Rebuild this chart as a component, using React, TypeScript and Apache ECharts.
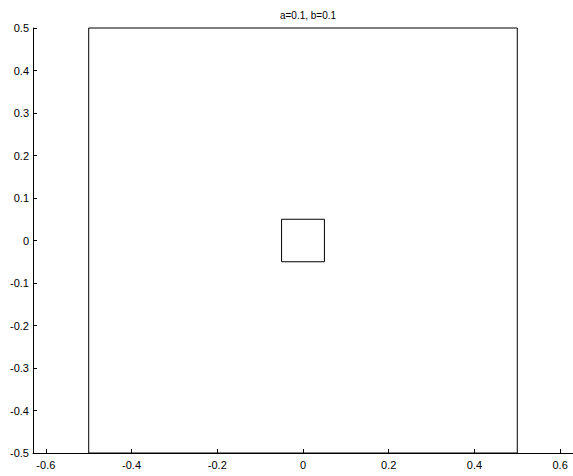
import React, { useEffect, useRef } from "react";
import * as echarts from "echarts";

const titleText = "a=0.1, b=0.1";
const xTicks = [-0.6, -0.4, -0.2, 0, 0.2, 0.4, 0.6];
const yTicks = [-0.5, -0.4, -0.3, -0.2, -0.1, 0, 0.1, 0.2, 0.3, 0.4, 0.5];
const outerX = [-0.5, 0.5, 0.5, -0.5, -0.5];
const outerY = [-0.5, -0.5, 0.5, 0.5, -0.5];
const innerX = [-0.05, 0.05, 0.05, -0.05, -0.05];
const innerY = [-0.05, -0.05, 0.05, 0.05, -0.05];

const fmt = (v: number) => {
  const r = Math.round(v * 10) / 10;
  return r === 0 ? "0" : String(r);
};

export default function App() {
  const ref = useRef<HTMLDivElement>(null);
  useEffect(() => {
    document.body.style.margin = "0";
    const chart = echarts.init(ref.current!, null, { renderer: "svg" });
    const font = "Liberation Sans, Arial, sans-serif";
    chart.setOption({
      animation: false,
      title: {
        text: titleText,
        left: 303,
        top: 5,
        textAlign: "center",
        textStyle: { fontSize: 10, fontWeight: "normal", color: "#000", fontFamily: font },
      },
      grid: { left: 33, right: 0, top: 28, bottom: 23, containLabel: false },
      xAxis: {
        type: "value",
        min: -0.63,
        max: 0.63,
        splitLine: { show: false },
        axisLine: { show: true, onZero: false, lineStyle: { color: "#000", width: 1 } },
        axisTick: { show: true, inside: true, length: 4, customValues: xTicks, lineStyle: { color: "#000" } },
        axisLabel: {
          customValues: xTicks,
          formatter: (v: number) => fmt(v),
          color: "#000",
          fontSize: 11,
          fontFamily: font,
          margin: 6,
        },
      },
      yAxis: {
        type: "value",
        min: -0.5,
        max: 0.5,
        splitLine: { show: false },
        axisLine: { show: true, onZero: false, lineStyle: { color: "#000", width: 1 } },
        axisTick: { show: true, inside: true, length: 4, customValues: yTicks, lineStyle: { color: "#000" } },
        axisLabel: {
          customValues: yTicks,
          formatter: (v: number) => fmt(v),
          color: "#000",
          fontSize: 11,
          fontFamily: font,
          margin: 4,
        },
      },
      series: [
        {
          type: "line",
          data: outerX.map((x, i) => [x, outerY[i]]),
          symbol: "none",
          clip: false,
          lineStyle: { color: "#000", width: 1 },
        },
        {
          type: "line",
          data: innerX.map((x, i) => [x, innerY[i]]),
          symbol: "none",
          clip: false,
          lineStyle: { color: "#000", width: 1 },
        },
      ],
    });
    return () => chart.dispose();
  }, []);
  return <div ref={ref} style={{ width: 573, height: 476 }} />;
}
